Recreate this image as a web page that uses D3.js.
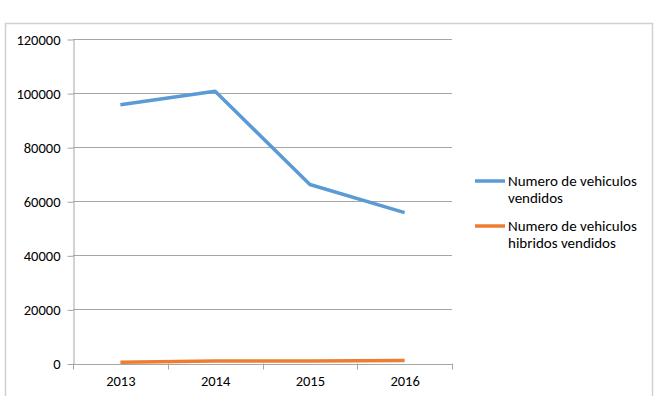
<!DOCTYPE html>
<html>
<head>
<meta charset="utf-8">
<script src="https://cdn.jsdelivr.net/npm/d3@7"></script>
<style>
  body { margin: 0; background: #fff; }
  text { font-family: Carlito, Lato, "Open Sans", sans-serif; fill: #000; }
</style>
</head>
<body>
<svg width="658" height="396"></svg>
<script>
var svg = d3.select('svg');

// data
var years = ['2013', '2014', '2015', '2016'];
var vendidos = [95700, 100700, 66200, 55800];
var hibridos = [500, 900, 900, 1100];
var yTicks = [0, 20000, 40000, 60000, 80000, 100000, 120000];
var seriesNames = [['Numero de vehiculos', 'vendidos'], ['Numero de vehiculos', 'hibridos vendidos']];
var colors = ['#5b9bd5', '#ed7d31'];

// outer border
svg.append('rect')
    .attr('x', 5.5).attr('y', 23.5)
    .attr('width', 647).attr('height', 380)
    .attr('fill', 'none').attr('stroke', '#d0d0d0').attr('stroke-width', 1.5);

var plotLeft = 73, plotRight = 452, plotTop = 39, plotBottom = 363.5;

var x = d3.scaleBand().domain(years).range([plotLeft, plotRight]);
var y = d3.scaleLinear().domain([0, 120000]).range([plotBottom, plotTop]);

// gridlines
svg.selectAll('.grid')
    .data(yTicks.slice(1))
    .enter()
    .append('line')
    .attr('x1', plotLeft).attr('x2', plotRight)
    .attr('y1', function(d){ return Math.round(y(d)) + 0.5; })
    .attr('y2', function(d){ return Math.round(y(d)) + 0.5; })
    .attr('stroke', '#a6a6a6').attr('stroke-width', 1);

// y axis
var yAxis = svg.append('g')
    .attr('transform', 'translate(' + (plotLeft + 0.5) + ',0.5)')
    .call(d3.axisLeft(y).tickValues(yTicks).tickSize(6).tickSizeOuter(0).tickFormat(d3.format('d')));
yAxis.attr('font-size', 14.5).attr('font-family', null);
yAxis.select('.domain').attr('stroke', '#a6a6a6');
yAxis.selectAll('.tick line').attr('stroke', '#a6a6a6');
yAxis.selectAll('text').attr('x', -13);

// x axis
var xAxis = svg.append('g')
    .attr('transform', 'translate(0.5,' + (plotBottom + 0.5) + ')')
    .call(d3.axisBottom(x).tickSize(0).tickSizeOuter(0));
xAxis.attr('font-size', 14.5).attr('font-family', null);
xAxis.select('.domain').attr('stroke', '#a6a6a6');
xAxis.selectAll('text').attr('dy', '1.3em');
// category boundary ticks
svg.selectAll('.xtick')
    .data(years.concat(['end']))
    .enter()
    .append('line')
    .attr('x1', function(d, i){ return Math.round(plotLeft + i * x.bandwidth()) + 0.5; })
    .attr('x2', function(d, i){ return Math.round(plotLeft + i * x.bandwidth()) + 0.5; })
    .attr('y1', plotBottom).attr('y2', plotBottom + 6)
    .attr('stroke', '#a6a6a6');

var line = d3.line()
    .x(function(d, i){ return x(years[i]) + x.bandwidth() / 2; })
    .y(function(d){ return y(d); });

[vendidos, hibridos].forEach(function(s, i){
    svg.append('path')
        .attr('d', line(s))
        .attr('fill', 'none')
        .attr('stroke', colors[i])
        .attr('stroke-width', 3.5)
        .attr('stroke-linejoin', 'round');
});

// legend
var legend = svg.selectAll('.legend')
    .data(seriesNames)
    .enter()
    .append('g')
    .attr('transform', function(d, i){ return 'translate(475,' + (181 + i * 45) + ')'; });
legend.append('line')
    .attr('x1', 0).attr('x2', 30).attr('y1', 0).attr('y2', 0)
    .attr('stroke', function(d, i){ return colors[i]; })
    .attr('stroke-width', 3.5);
legend.each(function(d){
    var t = d3.select(this).append('text').attr('x', 33).attr('font-size', 15);
    d.forEach(function(s, j){
        t.append('tspan').attr('x', 33).attr('y', j * 17 + 5).text(s);
    });
});
</script>
</body>
</html>
